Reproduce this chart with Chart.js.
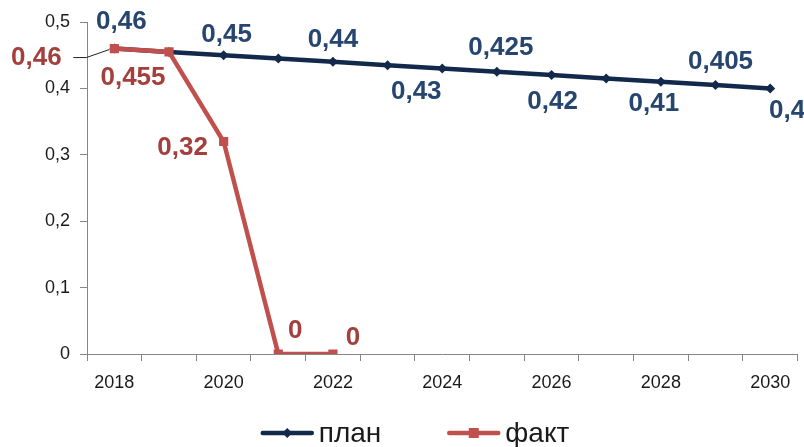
<!DOCTYPE html>
<html>
<head>
<meta charset="utf-8">
<script src="https://cdn.jsdelivr.net/npm/chart.js@4/dist/chart.umd.min.js"></script>
<style>
  html, body { margin: 0; padding: 0; background: #fff; }
  #wrap { width: 804px; height: 447px; }
</style>
</head>
<body>
<div id="wrap"><canvas id="lineChart" width="804" height="447"></canvas></div>
<script>
const years = ['2018', '2019', '2020', '2021', '2022', '2023', '2024', '2025', '2026', '2027', '2028', '2029', '2030'];
const planValues = [0.46, 0.455, 0.45, 0.445, 0.44, 0.435, 0.43, 0.425, 0.42, 0.415, 0.41, 0.405, 0.4];
const factValues = [0.46, 0.455, 0.32, 0, 0, null, null, null, null, null, null, null, null];
const yTicks = [0, 0.1, 0.2, 0.3, 0.4, 0.5];

const navy = '#13294b';
const navyText = '#27466f';
const red = '#c0504d';
const redText = '#a43f3c';

// where each value label sits relative to its point (null = no label)
const planLabelShift = [[7, -27], null, [3, -20], null, [0, -22], null, [-26, 23], [4, -24], [1, 27], null, [-7, 22], [5, -23], [17, 22]];
const factLabelShift = [[-78, 9], [-36, 26], [-41, 6], [17, -23], [20, -16]];

function fmt(v) {
  return String(Math.round(v * 1000) / 1000).replace('.', ',');
}

function drawMarker(ctx, style, x, y, color) {
  ctx.fillStyle = color;
  if (style === 'rect') {
    ctx.fillRect(x - 5, y - 5, 10, 10);
  } else {
    ctx.beginPath();
    ctx.moveTo(x, y - 5); ctx.lineTo(x + 5, y); ctx.lineTo(x, y + 5); ctx.lineTo(x - 5, y);
    ctx.closePath(); ctx.fill();
  }
}

const valueLabels = {
  id: 'valueLabels',
  afterDatasetsDraw(chart) {
    const ctx = chart.ctx;
    const sets = [
      { meta: chart.getDatasetMeta(0), values: planValues, shift: planLabelShift, color: navyText },
      { meta: chart.getDatasetMeta(1), values: factValues, shift: factLabelShift, color: redText }
    ];
    ctx.save();
    ctx.textAlign = 'center';
    ctx.textBaseline = 'middle';
    sets.forEach(s => {
      s.meta.data.forEach((pt, i) => {
        const sh = s.shift[i];
        if (!sh || s.values[i] === null) return;
        const v = s.values[i];
        ctx.fillStyle = s.color;
        ctx.font = 'bold 26px "Liberation Sans"';
        ctx.fillText(fmt(v), pt.x + sh[0], pt.y + sh[1]);
      });
    });
    // leader line for the first fact label
    const p = chart.getDatasetMeta(1).data[0];
    ctx.strokeStyle = '#222';
    ctx.lineWidth = 1;
    ctx.beginPath();
    ctx.moveTo(p.x - 41, p.y + 9);
    ctx.lineTo(p.x - 28, p.y + 9);
    ctx.lineTo(p.x - 5, p.y + 1);
    ctx.stroke();
    ctx.restore();
  }
};

// legend: line sample with marker, then the series name
const lineLegend = {
  id: 'lineLegend',
  afterDraw(chart) {
    const ctx = chart.ctx;
    const sets = chart.data.datasets;
    const sample = 53, gapText = 5, gapItem = 66;
    ctx.save();
    ctx.font = '28px "Liberation Sans"';
    ctx.textBaseline = 'middle';
    const widths = sets.map(ds => ctx.measureText(ds.label).width);
    const total = widths.reduce((a, w) => a + sample + gapText + w, 0) + gapItem * (sets.length - 1);
    let x = chart.width / 2 + 13 - total / 2;
    const y = 433;
    sets.forEach((ds, i) => {
      ctx.strokeStyle = ds.borderColor;
      ctx.lineWidth = 4.5;
      ctx.lineCap = 'round';
      ctx.beginPath(); ctx.moveTo(x + 2, y); ctx.lineTo(x + sample - 2, y); ctx.stroke();
      drawMarker(ctx, ds.pointStyle, x + sample / 2, y, ds.borderColor);
      ctx.fillStyle = '#1a1a1a';
      ctx.fillText(ds.label, x + sample + gapText, y + 1);
      x += sample + gapText + widths[i] + gapItem;
    });
    ctx.restore();
  }
};

const data = {
  labels: years,
  datasets: [{
    label: 'план',
    data: planValues,
    borderColor: navy,
    backgroundColor: navy,
    borderWidth: 4.5,
    pointStyle: 'rectRot',
    pointRadius: 5,
    pointBorderWidth: 0,
    order: 1
  }, {
    label: 'факт',
    data: factValues,
    borderColor: red,
    backgroundColor: red,
    borderWidth: 4.5,
    pointStyle: 'rect',
    pointRadius: 6.5,
    pointBorderWidth: 0,
    order: 0
  }]
};

const config = {
  type: 'line',
  data: data,
  options: {
    responsive: false,
    animation: false,
    layout: { padding: { left: 0, right: 5, top: 22, bottom: 51 } },
    plugins: {
      tooltip: { enabled: false },
      legend: { display: false }
    },
    scales: {
      x: {
        offset: true,
        grid: { offset: true, drawOnChartArea: false, tickLength: 7, color: '#868686' },
        border: { color: '#868686', width: 1 },
        ticks: {
          autoSkip: false,
          maxRotation: 0,
          padding: 11,
          color: '#1a1a1a',
          font: { family: 'Liberation Sans', size: 18 },
          callback: function (v, i) { return i % 2 === 0 ? years[i] : ''; }
        },
        afterFit: s => { s.height = 42; }
      },
      y: {
        min: 0,
        max: 0.5,
        afterBuildTicks: s => { s.ticks = yTicks.map(v => ({ value: v })); },
        grid: { drawOnChartArea: false, tickLength: 7, color: '#868686' },
        border: { color: '#868686', width: 1 },
        ticks: {
          padding: 10,
          color: '#1a1a1a',
          font: { family: 'Liberation Sans', size: 18 },
          callback: v => fmt(v)
        },
        afterFit: s => { s.width = 87; }
      }
    }
  },
  plugins: [valueLabels, lineLegend]
};

const lineChart = new Chart(document.getElementById('lineChart'), config);
</script>
</body>
</html>
